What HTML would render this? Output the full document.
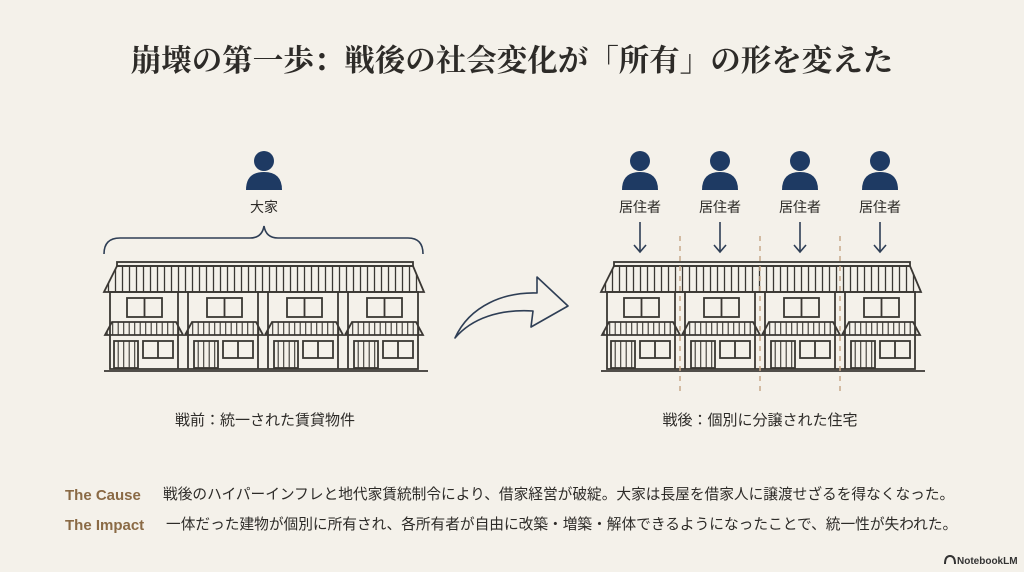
<!DOCTYPE html>
<html><head><meta charset="utf-8"><style>
html,body{margin:0;padding:0;background:#f4f1ea;}
svg{display:block}
</style></head><body>
<svg width="1024" height="572" viewBox="0 0 1024 572" xmlns="http://www.w3.org/2000/svg">
<defs>
<pattern id="st" width="7" height="10" patternUnits="userSpaceOnUse"><line x1="3.5" y1="0" x2="3.5" y2="10" stroke="#3a3733" stroke-width="1.3"/></pattern>
<pattern id="st2" width="5.5" height="10" patternUnits="userSpaceOnUse"><line x1="2.7" y1="0" x2="2.7" y2="10" stroke="#3a3733" stroke-width="1.1"/></pattern>
<g id="unit" fill="none" stroke="#3a3733" stroke-width="1.8">
  <rect x="17" y="298" width="35" height="19" fill="#f4f1ea"/>
  <line x1="34.5" y1="298" x2="34.5" y2="317"/>
  <polygon points="2,322 66,322 73,335 -5,335" fill="url(#st2)"/>
  <rect x="4" y="341" width="24" height="27" fill="url(#st2)"/>
  <rect x="33" y="341" width="30" height="17"/>
  <line x1="48" y1="341" x2="48" y2="358"/>
</g>
<g id="house" fill="none" stroke="#3a3733" stroke-width="1.8">
  <rect x="110" y="292" width="308" height="77" fill="#f4f1ea"/>
  <line x1="178" y1="292" x2="178" y2="369"/><line x1="188" y1="292" x2="188" y2="369"/>
  <line x1="258" y1="292" x2="258" y2="369"/><line x1="268" y1="292" x2="268" y2="369"/>
  <line x1="338" y1="292" x2="338" y2="369"/><line x1="348" y1="292" x2="348" y2="369"/>
  <rect x="117" y="262" width="296" height="4" fill="#f4f1ea"/>
  <polygon points="117,266 413,266 424,292 104,292" fill="url(#st)"/>
  <use href="#unit" transform="translate(110,0)"/>
  <use href="#unit" transform="translate(190,0)"/>
  <use href="#unit" transform="translate(270,0)"/>
  <use href="#unit" transform="translate(350,0)"/>
  <line x1="104" y1="371" x2="428" y2="371"/>
</g>
<g id="person" fill="#1e3a63">
  <circle cx="0" cy="-14" r="10"/>
  <path d="M-18,15 Q-18,-3 0,-3 Q18,-3 18,15 Z"/>
</g>
<g id="arr" fill="none" stroke="#2e3e55" stroke-width="1.6">
  <line x1="0" y1="222" x2="0" y2="251"/><polyline points="-6,245 0,252 6,245"/>
</g>
</defs>

<text x="512" y="71" text-anchor="middle" font-family="'Liberation Serif','Noto Serif CJK SC',serif" font-weight="bold" font-size="30.5" fill="#2d2b28">崩壊の第一歩：戦後の社会変化が「所有」の形を変えた</text>

<use href="#person" transform="translate(264,175)"/>
<text x="264" y="212" text-anchor="middle" font-family="'Liberation Sans','Noto Sans CJK JP',sans-serif" font-size="14" fill="#2d2b28">大家</text>
<path d="M104,254 Q104,238 120,238 L250,238 Q262,238 264,226 Q266,238 278,238 L408,238 Q423,238 423,254" fill="none" stroke="#2e3e55" stroke-width="1.6"/>

<use href="#house"/>
<use href="#house" transform="translate(497,0)"/>

<g stroke="#c8a98a" stroke-width="1.5" stroke-dasharray="5,5">
<line x1="680" y1="236" x2="680" y2="392"/>
<line x1="760" y1="236" x2="760" y2="392"/>
<line x1="840" y1="236" x2="840" y2="392"/>
</g>

<g font-family="'Liberation Sans','Noto Sans CJK JP',sans-serif" font-size="14" fill="#2d2b28" text-anchor="middle">
<use href="#person" transform="translate(640,175)"/><text x="640" y="212">居住者</text><use href="#arr" transform="translate(640,0)"/>
<use href="#person" transform="translate(720,175)"/><text x="720" y="212">居住者</text><use href="#arr" transform="translate(720,0)"/>
<use href="#person" transform="translate(800,175)"/><text x="800" y="212">居住者</text><use href="#arr" transform="translate(800,0)"/>
<use href="#person" transform="translate(880,175)"/><text x="880" y="212">居住者</text><use href="#arr" transform="translate(880,0)"/>
</g>

<path d="M455,338 C470,305 505,292 537,293 L537,277 L568,306 L531,327 L533,311 C500,309 472,318 455,338 Z" fill="none" stroke="#2e3e55" stroke-width="1.6" stroke-linejoin="round"/>

<g font-family="'Liberation Sans','Noto Sans CJK JP',sans-serif" font-size="15" fill="#2d2b28" text-anchor="middle">
<text x="265" y="425">戦前：統一された賃貸物件</text>
<text x="760" y="425">戦後：個別に分譲された住宅</text>
</g>

<g font-family="'Liberation Sans','Noto Sans CJK JP',sans-serif">
<text x="65" y="500" font-size="15" font-weight="bold" fill="#8a6a45">The Cause</text>
<text x="65" y="530" font-size="15" font-weight="bold" fill="#8a6a45">The Impact</text>
<text x="163" y="499" font-size="14.7" fill="#2d2b28">戦後のハイパーインフレと地代家賃統制令により、借家経営が破綻。大家は長屋を借家人に譲渡せざるを得なくなった。</text>
<text x="166" y="529" font-size="14.7" fill="#2d2b28">一体だった建物が個別に所有され、各所有者が自由に改築・増築・解体できるようになったことで、統一性が失われた。</text>
<text x="957" y="564" font-size="10" font-weight="bold" fill="#333">NotebookLM</text>
</g>
<path d="M945,564 Q945,556 950,556 Q955,556 955,564" fill="none" stroke="#333" stroke-width="2"/>
</svg>
</body></html>
